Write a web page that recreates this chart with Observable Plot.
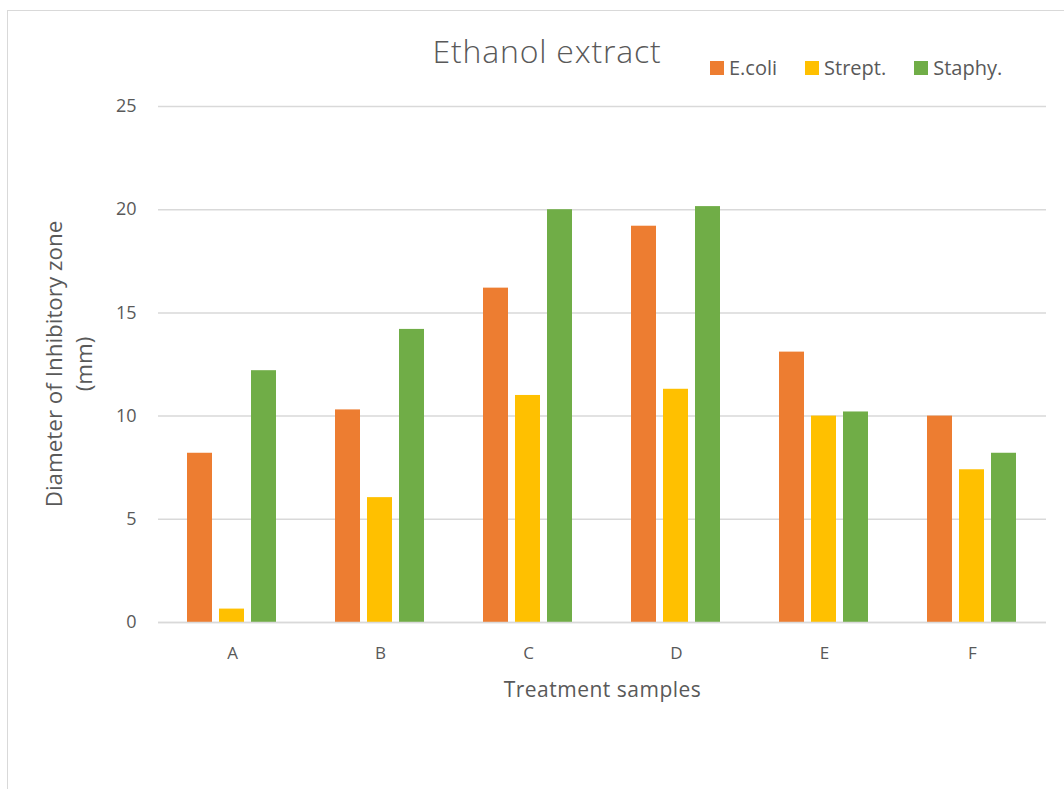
<!DOCTYPE html>
<html><head><meta charset="utf-8">
<script src="https://cdn.jsdelivr.net/npm/d3@7"></script>
<script src="https://cdn.jsdelivr.net/npm/@observablehq/plot@0.6"></script>
<style>
body{margin:0;background:#fff;font-family:"Open Sans",sans-serif;color:#595959}
#wrap{position:relative;width:1064px;height:789px;overflow:hidden}
#frame{position:absolute;left:7px;top:10px;right:-5px;bottom:-5px;border-left:1.5px solid #d9d9d9;border-top:1.5px solid #d9d9d9}
#title{position:absolute;left:0;width:1094px;top:29px;text-align:center;font-size:32px;letter-spacing:0.8px;font-weight:300;white-space:nowrap;line-height:normal}
#legend{position:absolute;left:710px;top:54px;display:flex;gap:28px;font-size:20px;white-space:nowrap;line-height:normal}
#legend .item{display:flex;align-items:center;gap:5px}
#legend .sw{width:14px;height:14px;display:inline-block}
#xlabel{position:absolute;left:0;width:1205px;top:675px;text-align:center;font-size:21px;letter-spacing:0.5px;white-space:nowrap;line-height:normal}
#ylabel{position:absolute;left:-131px;width:400px;top:334px;height:60px;line-height:30px;text-align:center;font-size:22.4px;transform:rotate(-90deg);white-space:nowrap}
#chart{position:absolute;left:0;top:0}
</style>
</head><body>
<div id="wrap">
  <div id="frame"></div>
  <div id="chart"></div>
  <div id="title"></div>
  <div id="legend"></div>
  <div id="xlabel"></div>
  <div id="ylabel"></div>
</div>
<script>
const categories = ["A", "B", "C", "D", "E", "F"];
const series = ["E.coli", "Strept.", "Staphy."];
const ecoli  = [8.2, 10.3, 16.2, 19.2, 13.1, 10.0];
const strept = [0.65, 6.05, 11.0, 11.3, 10.0, 7.4];
const staphy = [12.2, 14.2, 20.0, 20.15, 10.2, 8.2];
const colors = ["#ED7D31", "#FFC000", "#70AD47"];
const yTicks = [0, 5, 10, 15, 20, 25];
const titleText = "Ethanol extract";
const xTitle = "Treatment samples";
const yTitleLines = ["Diameter of Inhibitory zone", "(mm)"];

const seriesValues = [ecoli, strept, staphy];
const data = categories.flatMap((c, i) => series.map((s, j) => ({category: c, series: s, value: seriesValues[j][i]})));

const chart = Plot.plot({
  width: 1064,
  height: 789,
  marginLeft: 157,
  marginRight: 17,
  marginTop: 106,
  marginBottom: 167,
  style: {fontFamily: "'Open Sans', sans-serif", fontSize: "16px", color: "#595959", background: "transparent", overflow: "visible"},
  fx: {domain: categories, padding: 0, label: null},
  x: {domain: series, paddingInner: 0.212, paddingOuter: 0.85, axis: null},
  y: {domain: [0, 25], label: null},
  color: {domain: series, range: colors},
  marks: [
    Plot.gridY(yTicks, {stroke: "#d9d9d9", strokeOpacity: 1, strokeWidth: 1.5}),
    Plot.axisY(yTicks, {tickSize: 0, tickPadding: 22, label: null, fontSize: 18, fill: "#595959"}),
    Plot.axisFx({anchor: "bottom", tickSize: 0, tickPadding: 24, label: null, fontSize: 17, fill: "#595959"}),
    Plot.barY(data, {fx: "category", x: "series", y: "value", fill: "series"}),
    Plot.ruleY([0], {stroke: "#d9d9d9", strokeWidth: 1.5})
  ]
});
document.getElementById("chart").appendChild(chart);
document.getElementById("title").textContent = titleText;
document.getElementById("xlabel").textContent = xTitle;
document.getElementById("ylabel").innerHTML = yTitleLines.map(t => `<div>${t}</div>`).join("");
const legend = document.getElementById("legend");
series.forEach((s, i) => {
  const item = document.createElement("div");
  item.className = "item";
  const sw = document.createElement("span");
  sw.className = "sw";
  sw.style.background = colors[i];
  const t = document.createElement("span");
  t.textContent = s;
  item.appendChild(sw);
  item.appendChild(t);
  legend.appendChild(item);
});
</script>
</body></html>
